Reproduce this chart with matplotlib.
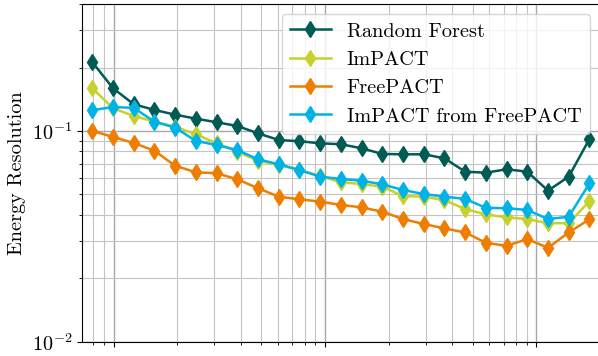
import matplotlib
matplotlib.use("Agg")
import matplotlib.pyplot as plt

plt.rcParams["font.family"] = "serif"
plt.rcParams["font.serif"] = ["cmr10"]
plt.rcParams["mathtext.fontset"] = "cm"
plt.rcParams["axes.formatter.use_mathtext"] = True
plt.rcParams["font.size"] = 14.6

# energy bin centres (log-spaced bins)
energy = [0.0793, 0.0993, 0.1245, 0.156, 0.1954, 0.2449, 0.3069, 0.3846, 0.4819,
          0.604, 0.7568, 0.9484, 1.1885, 1.4894, 1.8664, 2.3388, 2.9309, 3.6728,
          4.6026, 5.7677, 7.2277, 9.0573, 11.35, 14.223, 17.824]

rf = [0.212, 0.1595, 0.1339, 0.1258, 0.1195, 0.1144, 0.1100, 0.1056, 0.0975,
      0.0906, 0.0894, 0.0874, 0.0865, 0.0828, 0.0778, 0.0775, 0.0775, 0.0742,
      0.0641, 0.0634, 0.0658, 0.0641, 0.0521, 0.0607, 0.0916]
impact = [0.1595, 0.1282, 0.1178, 0.1107, 0.1048, 0.0965, 0.0874, 0.0798, 0.0723,
          0.0690, 0.0653, 0.0612, 0.0571, 0.0560, 0.0544, 0.0491, 0.0488, 0.0470,
          0.0426, 0.0402, 0.0389, 0.0382, 0.0365, 0.0365, 0.0465]
freepact = [0.1000, 0.0937, 0.0877, 0.0806, 0.0684, 0.0637, 0.0630, 0.0590, 0.0535,
            0.0488, 0.0474, 0.0462, 0.0446, 0.0434, 0.0414, 0.0382, 0.0362, 0.0345,
            0.0330, 0.0295, 0.0285, 0.0307, 0.0279, 0.0330, 0.0381]
impact_ffp = [0.1254, 0.1300, 0.1286, 0.1107, 0.1037, 0.0897, 0.0858, 0.0812, 0.0734,
              0.0695, 0.0653, 0.0607, 0.0592, 0.0581, 0.0558, 0.0525, 0.0502, 0.0488,
              0.0476, 0.0432, 0.0430, 0.0422, 0.0382, 0.0392, 0.0564]

fig = plt.figure(figsize=(5.98, 3.56), dpi=100)
ax = fig.add_axes([0.137, 0.040, 0.866, 0.9486])

ax.plot(energy, rf, marker="d", ms=8, lw=1.8, color="#005b54", label="Random Forest")
ax.plot(energy, impact, marker="d", ms=8, lw=1.8, color="#c6d22b", label="ImPACT")
ax.plot(energy, freepact, marker="d", ms=8, lw=1.8, color="#ef7d00", label="FreePACT")
ax.plot(energy, impact_ffp, marker="d", ms=8, lw=1.8, color="#00b3e6", label="ImPACT from FreePACT")

ax.set_xscale("log")
ax.set_yscale("log")
ax.set_xlim(0.0708, 19.95)
ax.set_ylim(0.01, 0.4)
ax.set_ylabel("Energy Resolution")
ax.tick_params(axis="x", which="both", labelbottom=False)
ax.grid(True, which="major", color="#a8a8a8", lw=1.0)
ax.grid(True, which="minor", color="#c4c4c4", lw=0.8)
ax.legend(loc="upper right")

fig.savefig("out.png", dpi=100)
